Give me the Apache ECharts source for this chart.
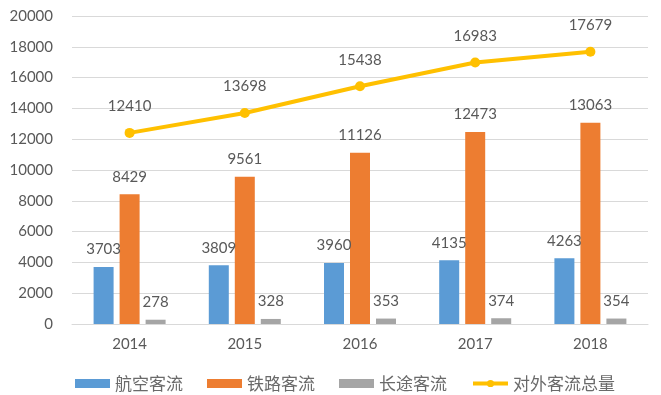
<!DOCTYPE html>
<html><head><meta charset="utf-8">
<script src="https://cdn.jsdelivr.net/npm/echarts@6/dist/echarts.min.js"></script>
<style>html,body{margin:0;padding:0;background:#fff}#c{width:661px;height:395px}</style>
</head><body><div id="c"></div>
<script>
const categories = ['2014','2015','2016','2017','2018'];
const air = [3703, 3809, 3960, 4135, 4263];
const rail = [8429, 9561, 11126, 12473, 13063];
const road = [278, 328, 353, 374, 354];
const total = [12410, 13698, 15438, 16983, 17679];
const names = ['航空客流','铁路客流','长途客流','对外客流总量'];

const chart = echarts.init(document.getElementById('c'));
const FONT = 'Lato, "Open Sans", sans-serif';
const lbl = {show:true, position:'top', color:'#595959', fontSize:15, fontFamily:FONT, distance:10};
chart.setOption({
  animation:false,
  grid:{left:72, right:13, top:16, bottom:71},
  legend:{
    top:370, left:70, itemWidth:35, itemHeight:9, itemGap:24,
    textStyle:{color:'#6a6a6a', fontSize:17, fontFamily:'"Noto Sans CJK SC", sans-serif'},
    data:[{name:names[0], icon:'rect'},{name:names[1], icon:'rect'},{name:names[2], icon:'rect'},
          {name:names[3], lineStyle:{width:4}}]
  },
  xAxis:{type:'category', data:categories,
    axisLine:{lineStyle:{color:'#d9d9d9'}}, axisTick:{show:false},
    axisLabel:{color:'#595959', fontSize:15, fontFamily:FONT, margin:13}},
  yAxis:{type:'value', min:0, max:20000, interval:2000,
    axisLine:{show:false}, axisTick:{show:false},
    splitLine:{lineStyle:{color:'#d9d9d9'}},
    axisLabel:{color:'#595959', fontSize:15, fontFamily:FONT, margin:19, formatter:v=>String(v)}},
  series:[
    {name:names[0], type:'bar', data:air, barWidth:20, barGap:'30%', itemStyle:{color:'#5B9BD5'}, label:lbl},
    {name:names[1], type:'bar', data:rail, barWidth:20, barGap:'30%', itemStyle:{color:'#ED7D31'}, label:lbl},
    {name:names[2], type:'bar', data:road, barWidth:20, barGap:'30%', itemStyle:{color:'#A5A5A5'}, label:lbl},
    {name:names[3], type:'line', data:total, symbol:'circle', symbolSize:10,
     lineStyle:{color:'#FFC000', width:4}, itemStyle:{color:'#FFC000'},
     label:Object.assign({}, lbl, {distance:14})}
  ]
});
</script></body></html>
